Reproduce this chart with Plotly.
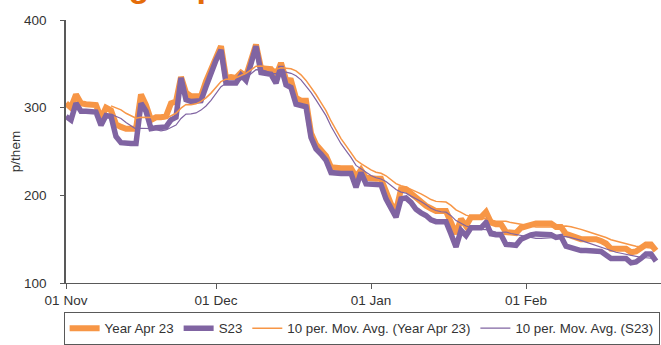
import pandas as pd
import plotly.graph_objects as go

# Daily dates (calendar days)
start_date = "2022-11-01"
n_days = 119

year_apr23 = [305, 300, 315, 305, 304, 304, 303, 288, 300, 297,
              281, 278, 276, 276, 276, 315, 303, 286, 289, 289,
              290, 305, 307, 335, 317, 313, 313, 313, 330, 343,
              357, 370, 334, 335, 334, 340, 336, 352, 372, 345,
              345, 344, 336, 351, 332, 331, 311, 308, 308, 271,
              258, 252, 245, 232, 231, 231, 231, 231, 221, 229,
              220, 219, 219, 219, 203, 190, 182, 207, 207, 202,
              196, 192, 188, 185, 182, 182, 182, 169, 156, 173,
              165, 175, 175, 175, 181, 169, 167, 167, 158, 157,
              157, 163, 165, 167, 168, 168, 168, 168, 164, 164,
              156, 154, 152, 150, 150, 150, 150, 148, 145, 139,
              139, 139, 139, 135, 136, 140, 144, 144, 137]

s23 = [290, 286, 305, 296, 296, 296, 295, 280, 291, 290,
       267, 260, 259, 259, 259, 305, 296, 276, 277, 277,
       278, 286, 289, 334, 309, 307, 307, 308, 324, 341,
       354, 366, 328, 328, 328, 337, 331, 350, 370, 340,
       339, 338, 328, 347, 326, 323, 304, 302, 301, 266,
       253, 247, 240, 226, 225, 225, 225, 225, 209, 226,
       213, 213, 213, 212, 196, 184, 175, 196, 197, 192,
       184, 180, 177, 172, 170, 170, 170, 156, 141, 160,
       154, 163, 163, 163, 169, 156, 155, 155, 144, 143,
       143, 150, 153, 155, 156, 156, 156, 155, 152, 153,
       142, 140, 139, 137, 137, 137, 137, 136, 132, 128,
       128, 128, 128, 123, 124, 128, 133, 133, 125]

ma_window = 10
series_names = ["Year Apr 23", "S23",
                "10 per. Mov. Avg. (Year Apr 23)", "10 per. Mov. Avg. (S23)"]
y_ticks = [100, 200, 300, 400]

dates = pd.date_range(start_date, periods=n_days, freq="D")
ma_year = pd.Series(year_apr23).rolling(ma_window).mean()
ma_s23 = pd.Series(s23).rolling(ma_window).mean()

ORANGE = "#F79646"
PURPLE = "#8064A2"
FONT = "Liberation Sans, Arial, sans-serif"

fig = go.Figure()
fig.add_trace(go.Scatter(x=dates, y=year_apr23, mode="lines", name=series_names[0],
                         line=dict(color=ORANGE, width=6)))
fig.add_trace(go.Scatter(x=dates, y=s23, mode="lines", name=series_names[1],
                         line=dict(color=PURPLE, width=5.5)))
fig.add_trace(go.Scatter(x=dates, y=ma_year, mode="lines", name=series_names[2],
                         line=dict(color=ORANGE, width=1.5)))
fig.add_trace(go.Scatter(x=dates, y=ma_s23, mode="lines", name=series_names[3],
                         line=dict(color=PURPLE, width=1.2)))

fig.update_layout(
    width=661, height=345,
    margin=dict(l=66, r=0, t=20, b=61),
    paper_bgcolor="white", plot_bgcolor="white",
    font=dict(family=FONT, size=13.5, color="#333333"),
    showlegend=True,
    legend=dict(orientation="h", x=-0.004, xanchor="left", y=-0.1098, yanchor="top",
                bordercolor="#595959", borderwidth=1, font=dict(size=13.3),
                itemwidth=30, traceorder="normal"),
    annotations=[dict(text="<b>Forward gas prices</b>", xref="paper", yref="paper",
                      x=-0.139, y=1, xanchor="left", yanchor="bottom", yshift=14,
                      showarrow=False, font=dict(family=FONT, size=34, color="#E46C0A"))],
)
fig.update_xaxes(
    range=["2022-11-01", "2023-02-28"], tick0="2022-11-01", dtick="M1",
    tickformat="%d %b", ticks="outside", ticklen=5, tickcolor="#595959",
    showline=True, linecolor="#595959", linewidth=1, showgrid=False, zeroline=False,
)
fig.update_yaxes(
    range=[100, 400], tickvals=y_ticks, ticks="outside", ticklen=4, tickcolor="#595959",
    showline=True, linecolor="#595959", linewidth=1.5, showgrid=False, zeroline=False,
    title=dict(text="p/them", standoff=0, font=dict(size=13.5)),
    ticklabelstandoff=11,
)

fig.write_html("out.html", config={"displayModeBar": False},
               post_script="document.body.style.margin='0';document.body.style.overflow='hidden';")
